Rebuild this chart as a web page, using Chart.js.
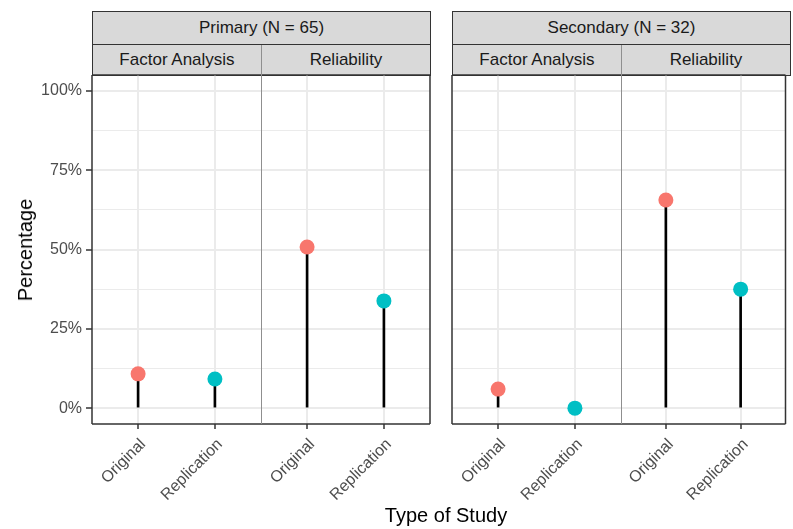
<!DOCTYPE html>
<html>
<head>
<meta charset="utf-8">
<script src="https://cdn.jsdelivr.net/npm/chart.js@4.4.1/dist/chart.umd.min.js"></script>
<style>
html,body{margin:0;padding:0;background:#fff;}
#wrap{position:relative;width:793px;height:529px;overflow:hidden;font-family:"Liberation Sans",Arial,sans-serif;}
#wrap canvas{position:absolute;left:0;top:0;}
.strip{position:absolute;box-sizing:border-box;background:#D9D9D9;border:1px solid #333;color:#1A1A1A;font-size:17px;display:flex;align-items:center;justify-content:center;white-space:nowrap;}
.divider{position:absolute;width:1px;background:#8f8f8f;}
.title{position:absolute;color:#000;font-size:20px;white-space:nowrap;}
</style>
</head>
<body>
<div id="wrap"></div>
<script>
// ---- data ----
const groups = ['Primary (N = 65)', 'Secondary (N = 32)'];
const analyses = ['Factor Analysis', 'Reliability'];
const studyTypes = ['Original', 'Replication'];
const primaryFactor = [10.8, 9.2];
const primaryReliability = [50.8, 33.8];
const secondaryFactor = [6.0, 0];
const secondaryReliability = [65.6, 37.5];
const yTicks = [0, 25, 50, 75, 100];
const xTitle = 'Type of Study';
const yTitle = 'Percentage';

// ---- styling / layout ----
const FONT = '"Liberation Sans", Arial, sans-serif';
const typeColors = ['#F8766D', '#00BFC4'];
const W = 793, H = 529;
const stripTop = 11, stripMid = 44, panelTop = 75, panelBottom = 424;
const groupX = [[92, 430], [452, 790]];
const panelValues = [primaryFactor, primaryReliability, secondaryFactor, secondaryReliability];
const wrap = document.getElementById('wrap');

const minorTicks = yTicks.slice(1).map((v, i) => (v + yTicks[i]) / 2);
const allYTicks = yTicks.concat(minorTicks).sort((a, b) => a - b);

const panelBorder = {
  id: 'panelBorder',
  afterDatasetsDraw(chart, args, opts) {
    const {ctx, chartArea: a} = chart;
    ctx.save();
    ctx.lineWidth = 1.5;
    const seg = (x1, y1, x2, y2, c) => { ctx.strokeStyle = c; ctx.beginPath(); ctx.moveTo(x1, y1); ctx.lineTo(x2, y2); ctx.stroke(); };
    seg(a.left, a.top, a.right, a.top, '#333');
    seg(a.left, a.bottom, a.right, a.bottom, '#333');
    if (opts.outerLeft) seg(a.left, a.top, a.left, a.bottom, '#333');
    if (opts.outerRight) seg(a.right, a.top, a.right, a.bottom, '#333');
    ctx.restore();
  }
};

groups.forEach((g, gi) => {
  const [x0, x1] = groupX[gi];
  const xm = (x0 + x1) / 2;
  const top = document.createElement('div');
  top.className = 'strip';
  Object.assign(top.style, {left: x0 + 'px', top: stripTop + 'px', width: (x1 - x0 + 1) + 'px', height: (stripMid - stripTop + 1) + 'px'});
  top.textContent = g;
  wrap.appendChild(top);
  analyses.forEach((an, ai) => {
    const sx0 = ai === 0 ? x0 : xm;
    const sx1 = ai === 0 ? xm : x1;
    const s = document.createElement('div');
    s.className = 'strip';
    Object.assign(s.style, {left: sx0 + 'px', top: stripMid + 'px', width: (sx1 - sx0 + 1) + 'px', height: (panelTop - stripMid + 1) + 'px'});
    s.textContent = an;
    wrap.appendChild(s);

    const pi = gi * 2 + ai;
    const values = panelValues[pi];
    const isFirst = pi === 0;
    const cv = document.createElement('canvas');
    cv.width = W; cv.height = H;
    wrap.appendChild(cv);
    const pts = values.map((v, j) => ({x: j + 1, y: v}));
    new Chart(cv.getContext('2d'), {
      type: 'bar',
      data: {
        datasets: [
          {type: 'scatter', data: pts, pointRadius: 7.5, pointHoverRadius: 7.5,
           pointBackgroundColor: typeColors, pointBorderWidth: 0, order: 0},
          {type: 'bar', data: pts, backgroundColor: '#000', barThickness: 2, order: 1}
        ]
      },
      options: {
        responsive: false, animation: false, events: [],
        layout: {padding: {left: isFirst ? 0 : sx0, right: W - sx1, top: panelTop, bottom: 0}},
        plugins: {legend: {display: false}, tooltip: {enabled: false},
                  panelBorder: {outerLeft: ai === 0, outerRight: ai === 1}},
        scales: {
          x: {
            type: 'linear', min: 0.4, max: 2.6, offset: false,
            afterBuildTicks: sc => { sc.ticks = studyTypes.map((_, j) => ({value: j + 1})); },
            afterFit: sc => { sc.height = H - panelBottom; },
            ticks: {autoSkip: false, minRotation: 45, maxRotation: 45, padding: 6, labelOffset: 5,
                    color: '#4D4D4D', font: {family: FONT, size: 16}, callback: v => studyTypes[v - 1]},
            grid: {offset: false, color: '#EBEBEB', lineWidth: 2, tickLength: 5, tickColor: '#333', tickWidth: 1.5},
            border: {display: false}
          },
          y: {
            type: 'linear', min: -5, max: 105,
            afterBuildTicks: sc => { sc.ticks = allYTicks.map(v => ({value: v})); },
            afterFit: sc => { sc.width = isFirst ? sx0 : 0; },
            ticks: {display: isFirst, autoSkip: false, padding: 4, color: '#4D4D4D',
                    font: {family: FONT, size: 16},
                    callback: v => yTicks.includes(v) ? v + '%' : ''},
            grid: {color: '#EBEBEB',
                   lineWidth: c => (c.tick && yTicks.includes(c.tick.value)) ? 2 : 1,
                   drawTicks: isFirst, tickLength: isFirst ? 6 : 0, tickWidth: 1.5,
                   tickColor: c => (c.tick && yTicks.includes(c.tick.value)) ? '#333' : 'rgba(0,0,0,0)'},
            border: {display: false}
          }
        }
      },
      plugins: [panelBorder]
    });
  });
  const d = document.createElement('div');
  d.className = 'divider';
  Object.assign(d.style, {left: xm + 'px', top: (stripMid + 1) + 'px', height: (panelBottom - stripMid - 1) + 'px'});
  wrap.appendChild(d);
});

const xt = document.createElement('div');
xt.className = 'title';
xt.textContent = xTitle;
Object.assign(xt.style, {left: '0px', width: (2 * 446) + 'px', textAlign: 'center', top: '503px', lineHeight: '24px'});
wrap.appendChild(xt);

const yt = document.createElement('div');
yt.className = 'title';
yt.textContent = yTitle;
Object.assign(yt.style, {left: '25px', top: '250px', transform: 'translate(-50%,-50%) rotate(-90deg)', lineHeight: '24px'});
wrap.appendChild(yt);
</script>
</body>
</html>
